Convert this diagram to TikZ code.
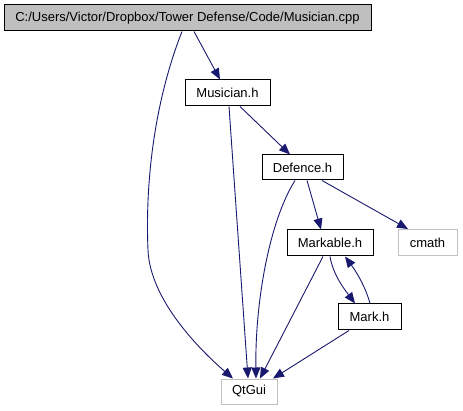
\documentclass[tikz,border=0pt]{standalone}
\usepackage{fontspec}
\setmainfont{Liberation Sans}
\usetikzlibrary{arrows.meta,calc}
\definecolor{edgecol}{HTML}{191970}
\definecolor{greyfill}{HTML}{BFBFBF}
\definecolor{greyline}{HTML}{C0C0C0}
\tikzset{
  box/.style={draw=black,line width=1pt,fill=white,inner sep=0pt,font=\fontsize{13}{15}\selectfont},
  greybox/.style={box,draw=greyline},
  mainbox/.style={box,fill=greyfill},
  edge/.style={draw=edgecol,line width=0.9pt,-{Triangle[length=11pt,width=9pt]}}
}
\begin{document}
\begin{tikzpicture}[x=1pt,y=-1pt]
\useasboundingbox[fill=white] (0,0) rectangle (463,411);
\node[mainbox,minimum width=367pt,minimum height=26pt] (main) at (187.5,18) {C:/Users/Victor/Dropbox/Tower Defense/Code/Musician.cpp};
\node[box,minimum width=85pt,minimum height=26pt] (mus) at (227.5,93) {Musician.h};
\node[box,minimum width=81pt,minimum height=25pt] (def) at (302.5,167.5) {Defence.h};
\node[box,minimum width=86pt,minimum height=26pt] (mkb) at (330,243) {Markable.h};
\node[greybox,minimum width=59pt,minimum height=26pt] (cm) at (427.5,242.5) {cmath};
\node[box,minimum width=63pt,minimum height=26pt] (mk) at (369.5,317) {Mark.h};
\node[greybox,minimum width=56pt,minimum height=25pt] (qt) at (249,391.5) {QtGui};

\draw[edge] ([xshift=-5.5pt]main.south) .. controls (155,100) and (145,180) .. (148,250) .. controls (150,300) and (200,350) .. ([xshift=-16pt]qt.north);
\draw[edge] ([xshift=6.5pt]main.south) -- ([xshift=-7.5pt]mus.north);
\draw[edge] ([xshift=1.5pt]mus.south) -- ([xshift=-1pt]qt.north);
\draw[edge] ([xshift=12.5pt]mus.south) -- ([xshift=-12.5pt]def.north);
\draw[edge] ([xshift=-7.5pt]def.south) .. controls (270,220) and (255,300) .. ([xshift=7pt]qt.north);
\draw[edge] ([xshift=4.5pt]def.south) -- ([xshift=-9pt]mkb.north);
\draw[edge] ([xshift=19.5pt]def.south) -- ([xshift=-19.5pt]cm.north);
\draw[edge] ([xshift=-7pt]mkb.south) -- ([xshift=11pt]qt.north);
\draw[edge] (mkb.south) .. controls (333,275) and (345,290) .. ([xshift=-14.5pt]mk.north);
\draw[edge] ([xshift=0.5pt]mk.north) .. controls (365,285) and (355,270) .. ([xshift=15pt]mkb.south);
\draw[edge] ([xshift=-20.5pt]mk.south) -- ([xshift=24pt]qt.north);
\end{tikzpicture}
\end{document}
